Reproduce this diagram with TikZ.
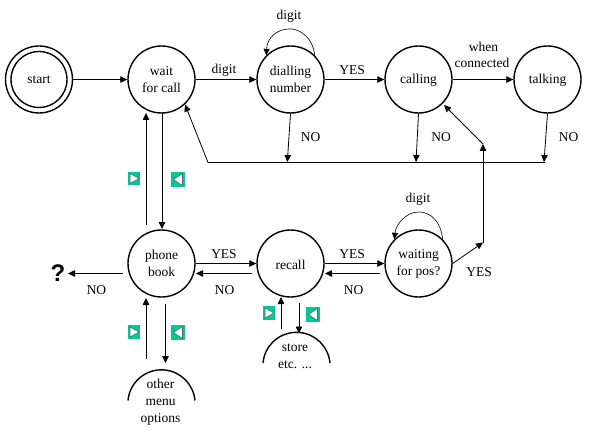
\documentclass[tikz,border=0pt]{standalone}
\usepackage{fontspec}
\setmainfont{Liberation Serif}
\newfontfamily\qfont{Liberation Sans}
\usetikzlibrary{arrows.meta}
\definecolor{btngreen}{RGB}{0,200,150}
\definecolor{btnedge}{RGB}{90,110,105}
\tikzset{
  statenode/.style={circle,draw=black,line width=1.4pt,minimum size=67pt,inner sep=0pt,align=center,font=\fontsize{13.5}{17}\selectfont,execute at begin node={\rule{0pt}{11.5pt}}},
  startinner/.style={circle,draw=black,line width=1.4pt,minimum size=56pt,inner sep=0pt,font=\fontsize{13.5}{17}\selectfont},
  lab/.style={inner sep=0pt,align=center,font=\fontsize{13.5}{16}\selectfont},
  conn/.style={line width=0.8pt,-{Triangle[length=7pt,width=6.5pt]}},
  loopline/.style={line width=0.6pt,-{Triangle[length=6.5pt,width=6pt]}},
  halfarc/.style={draw=black,line width=1.4pt},
  btn/.style={fill=btngreen,inner sep=0pt,minimum width=#1,minimum height=13.5pt},
  btn/.default=12.5pt,
  tri/.style={fill=white,draw=btnedge,line width=0.6pt}
}
\begin{document}
\begin{tikzpicture}[x=1pt,y=-1pt]
\useasboundingbox (0,0) rectangle (593,438);
\fill[white] (0,0) rectangle (593,438);
% states
\node[statenode] (start) at (39,79.5) {};
\node[startinner] (startin) at (39,79.5) {start};
\node[statenode] (wait) at (161.5,79.5) {wait\\for call};
\node[statenode] (dial) at (290.5,79.5) {dialling\\number};
\node[statenode] (calling) at (418.5,79.5) {calling};
\node[statenode] (talking) at (547.5,79.5) {talking};
\node[statenode] (phone) at (161.5,263.5) {phone\\book};
\node[statenode] (recall) at (290.5,263.5) {recall};
\node[statenode] (waiting) at (418.5,263.5) {waiting\\for pos?};
% half circles
\draw[halfarc] (128,400.5) arc[start angle=185,end angle=355,radius=33.6];
\draw[halfarc] (263,363) arc[start angle=185,end angle=355,radius=33.6];
\node[lab,font=\fontsize{13.5}{17.2}\selectfont] (other) at (160.5,402.5) {other\\menu\\options};
\node[lab,font=\fontsize{13.5}{17.2}\selectfont] (store) at (295,356) {store\\etc. ...};
\node[inner sep=0pt,font=\qfont\bfseries\fontsize{24}{24}\selectfont] (q) at (58,273) {?};
% named free ends
\coordinate (j1) at (208,162.5);
\coordinate (j2) at (545,162.5);
\coordinate (d1) at (287.3,162);
\coordinate (d2) at (416,162);
\coordinate (d3) at (544,162);
\coordinate (j3) at (483,242.5);
\coordinate (j4) at (483,144);
\coordinate (w1) at (185,104.5);
\coordinate (c1) at (444,105);
\coordinate (a1) at (146,225);
\coordinate (a2) at (146,113);
\coordinate (a3) at (162,113.5);
\coordinate (a4) at (162,229);
\coordinate (b1) at (146,359);
\coordinate (b2) at (146,298);
\coordinate (b3) at (165.5,304);
\coordinate (b4) at (165.5,363);
\coordinate (e1) at (281,329);
\coordinate (e2) at (281,297);
\coordinate (e3) at (299,303);
\coordinate (e4) at (299,333.5);
\coordinate (q1) at (123,273.5);
\coordinate (q2) at (68,273.5);
\coordinate (pr1) at (252,273.5);
\coordinate (pr2) at (196,273.5);
\coordinate (rw1) at (380,273.5);
\coordinate (rw2) at (325,273.5);
% top row
\draw[conn] (start.east) -- (wait.west);
\draw[conn] (wait.east) -- (dial.west);
\draw[conn] (dial.east) -- (calling.west);
\draw[conn] (calling.east) -- (talking.west);
\draw[conn] (dial.south) -- (d1);
\draw[conn] (calling.south) -- (d2);
\draw[conn] (talking.south) -- (d3);
\draw[conn] (j2) -- (j1) -- (w1);
% vertical links
\draw[conn] (a1) -- (a2);
\draw[conn] (a3) -- (a4);
\draw[conn] (b1) -- (b2);
\draw[conn] (b3) -- (b4);
\draw[conn] (e1) -- (e2);
\draw[conn] (e3) -- (e4);
% bottom row
\draw[conn] (q1) -- (q2);
\draw[conn] (phone.east) -- (recall.west);
\draw[conn] (pr1) -- (pr2);
\draw[conn] (recall.east) -- (waiting.west);
\draw[conn] (rw1) -- (rw2);
\draw[conn] (waiting.east) -- (j3);
\draw[conn] (j3) -- (j4);
\draw[conn] (j4) -- (c1);
% self loops
\draw[loopline] (dial.45) .. controls (313,36) and (297,28) .. (289,29) .. controls (277,29) and (267,38) .. (dial.135);
\draw[loopline] (waiting.45) .. controls (441,222) and (431,212) .. (419,212) .. controls (406,212) and (396,224) .. (waiting.135);
% labels
\node[lab] (l1) at (289,16) {digit};
\node[lab] (l2) at (224,70) {digit};
\node[lab] (l3) at (352,70) {YES};
\node[lab] (l4) at (310.5,137) {NO};
\node[lab] (l5) at (441,137) {NO};
\node[lab] (l6) at (568.5,137) {NO};
\node[lab] (l7) at (483.5,47) {when};
\node[lab] (l8) at (482,63) {connected};
\node[lab] (l9) at (418,199) {digit};
\node[lab] (l10) at (224,254) {YES};
\node[lab] (l11) at (224.5,290) {NO};
\node[lab] (l12) at (96.5,290) {NO};
\node[lab] (l13) at (352,254) {YES};
\node[lab] (l14) at (353.5,290) {NO};
\node[lab] (l15) at (479,272) {YES};
% buttons
\node[btn] (br1) at (134,178.5) {};
\draw[tri] (br1.center) ++(-4,-5) -- ++(9,5) -- ++(-9,5) -- cycle;
\node[btn=14pt,minimum height=15pt] (bl1) at (178,179.5) {};
\draw[tri] (bl1.center) ++(4.5,-6) -- ++(-9,6) -- ++(9,6) -- cycle;
\node[btn] (br2) at (134,332) {};
\draw[tri] (br2.center) ++(-4,-5) -- ++(9,5) -- ++(-9,5) -- cycle;
\node[btn=14pt,minimum height=15pt] (bl2) at (178,332.5) {};
\draw[tri] (bl2.center) ++(4.5,-6) -- ++(-9,6) -- ++(9,6) -- cycle;
\node[btn] (br3) at (269,313) {};
\draw[tri] (br3.center) ++(-4,-5) -- ++(9,5) -- ++(-9,5) -- cycle;
\node[btn=14pt,minimum height=15pt] (bl3) at (313,314.5) {};
\draw[tri] (bl3.center) ++(4.5,-6) -- ++(-9,6) -- ++(9,6) -- cycle;
\end{tikzpicture}
\end{document}
